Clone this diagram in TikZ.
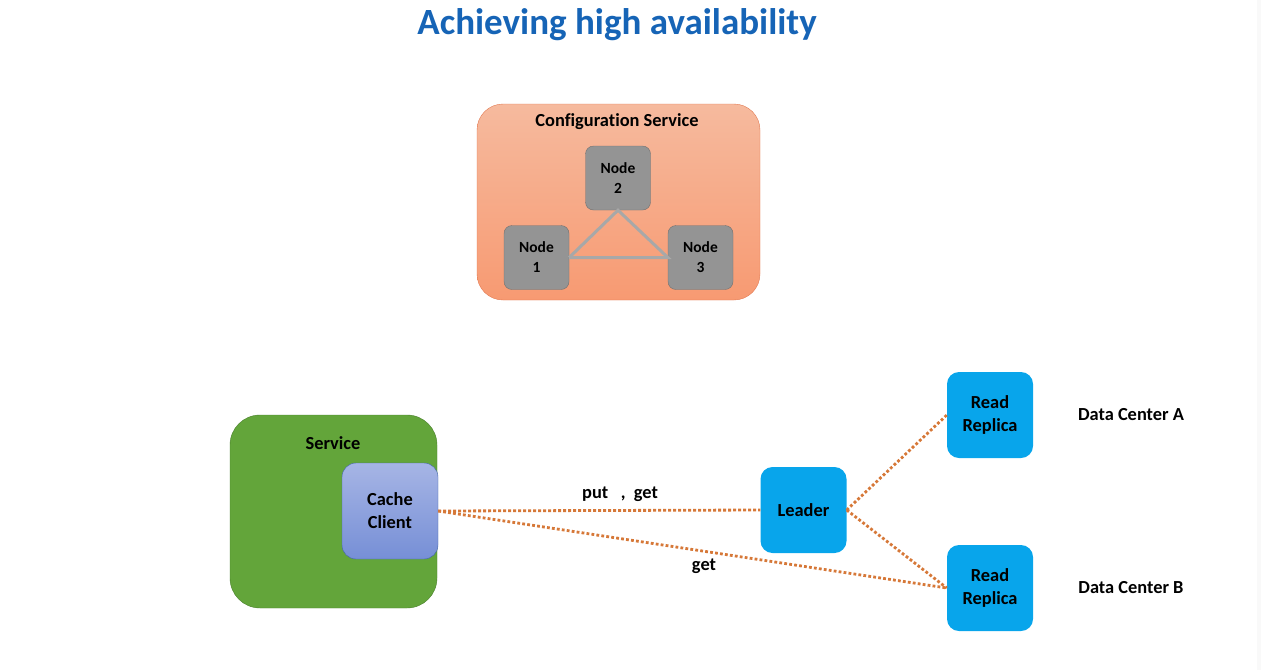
\documentclass[tikz,border=0pt]{standalone}
\usepackage{fontspec}
\setmainfont[Ligatures={NoCommon}]{Carlito}
\usetikzlibrary{positioning, calc}
\definecolor{colTitle}{RGB}{22, 100, 182}
\definecolor{colCfgTop}{RGB}{246, 186, 158}
\definecolor{colCfgBot}{RGB}{247, 154, 114}
\definecolor{colCfgLine}{RGB}{226, 122, 82}
\definecolor{colNode}{RGB}{148, 148, 148}
\definecolor{colNodeLine}{RGB}{112, 112, 112}
\definecolor{colTri}{RGB}{168, 168, 168}
\definecolor{colSvc}{RGB}{99, 165, 58}
\definecolor{colSvcLine}{RGB}{74, 128, 44}
\definecolor{colCliTop}{RGB}{166, 181, 229}
\definecolor{colCliBot}{RGB}{118, 143, 214}
\definecolor{colCliLine}{RGB}{66, 100, 170}
\definecolor{colDb}{RGB}{8, 165, 235}
\definecolor{colLink}{RGB}{214, 120, 56}

\begin{document}
\begin{tikzpicture}[x=1pt, y=-1pt, every node/.style={font=\bfseries\fontsize{18.4}{23}\selectfont},
    cfgnode/.style={draw=colNodeLine, fill=colNode, rounded corners=8pt, minimum width=65pt,
        minimum height=64pt, inner sep=0pt, align=center, font=\bfseries\fontsize{15.5}{20}\selectfont},
    dbnode/.style={fill=colDb, rounded corners=12pt, minimum width=86pt, minimum height=86pt,
        inner sep=0pt, align=center},
    link/.style={colLink, line width=2.8pt, dash pattern=on 2.8pt off 2.2pt}]
    \useasboundingbox (0, 0) rectangle (1261, 670);
    \fill[gray!5] (1257, 0) rectangle (1261, 670);

    % --- Judul ---
    \node[colTitle, font=\bfseries\fontsize{37}{44}\selectfont] (title) at (617, 25) {Achieving high availability};

    % --- Configuration Service ---
    \draw[colCfgLine, top color=colCfgTop, bottom color=colCfgBot, rounded corners=26pt]
        (477, 104) rectangle (760, 300);
    \node (cfglabel) at (617, 122) {Configuration Service};

    \node[cfgnode] (node2) at (618, 178) {Node\\2};
    \node[cfgnode] (node1) at (536.5, 257.5) {Node\\1};
    \node[cfgnode] (node3) at (700.5, 257.5) {Node\\3};

    % segitiga antar node
    \draw[colTri, line width=3pt] (node1.east) -- (node2.south) -- (node3.west) -- (node1.east);

    % --- Service ---
    \draw[colSvcLine, fill=colSvc, rounded corners=30pt] (230, 415) rectangle (437, 608);
    \node (svclabel) at (333, 443) {Service};

    \node[draw=colCliLine, top color=colCliTop, bottom color=colCliBot, rounded corners=14pt,
        minimum width=96pt, minimum height=96pt, inner sep=0pt, align=center] (client) at (390, 511) {Cache\\Client};

    % --- Leader dan replika ---
    \node[dbnode] (leader) at (803.5, 510) {Leader};
    \node[dbnode] (replA) at (990, 415) {Read\\Replica};
    \node[dbnode] (replB) at (990, 588) {Read\\Replica};

    \node (dcA) at (1131, 415) {Data Center A};
    \node (dcB) at (1131, 588) {Data Center B};

    % garis putus-putus
    \draw[link] (client.east) -- (leader.west);
    \draw[link] (client.east) -- (replB.west);
    \draw[link] (leader.east) -- (replA.west);
    \draw[link] (leader.east) -- (replB.west);

    \node (lblput) at (620, 494) {put\ \ \ ,\ \ get};
    \node (lblget) at (704, 566) {get};
\end{tikzpicture}
\end{document}
